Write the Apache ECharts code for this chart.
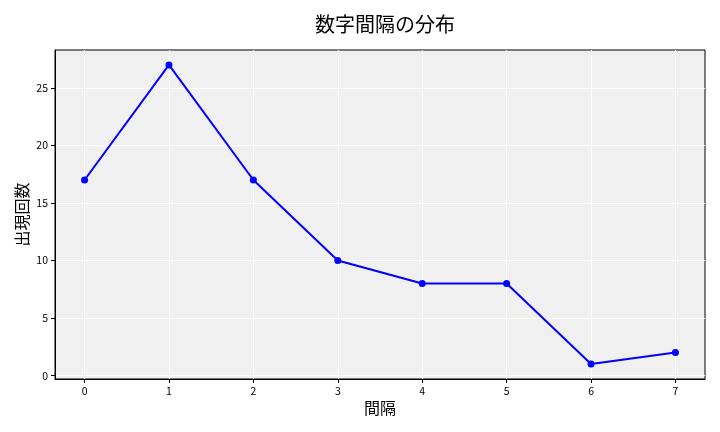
<!DOCTYPE html>
<html><head><meta charset="utf-8">
<script src="https://cdn.jsdelivr.net/npm/echarts@6/dist/echarts.min.js"></script>
<style>html,body{margin:0;padding:0;background:#fff}#c{width:720px;height:432px}</style>
</head><body><div id="c"></div>
<script>
const intervals = [0, 1, 2, 3, 4, 5, 6, 7];
const counts = [17, 27, 17, 10, 8, 8, 1, 2];
const yTicks = [0, 5, 10, 15, 20, 25];
const titleText = '数字間隔の分布';
const xName = '間隔';
const yName = '出現回数';

const font = '"Noto Sans CJK JP", "DejaVu Sans", sans-serif';
const chart = echarts.init(document.getElementById('c'), null, {renderer: 'canvas'});
chart.setOption({
  animation: false,
  backgroundColor: '#fff',
  title: {text: titleText, left: 380, textAlign: 'center', top: 9,
    textStyle: {fontFamily: font, fontSize: 20, fontWeight: 'normal', color: '#000'}},
  grid: {left: 55, right: 15, top: 50, bottom: 53, show: true,
    backgroundColor: '#F0F0F0', borderColor: '#000', borderWidth: 1},
  xAxis: {type: 'value', min: -0.35, max: 7.35,
    name: xName, nameLocation: 'middle', nameGap: 21, nameMoveOverlap: false,
    nameTextStyle: {fontFamily: font, fontSize: 16, color: '#000'},
    axisLine: {show: true, onZero: false, lineStyle: {color: '#000'}},
    axisTick: {show: true, length: 4, lineStyle: {color: '#000'}, customValues: intervals},
    axisLabel: {customValues: intervals, fontFamily: font, fontSize: 10.5, color: '#000', margin: 7},
    splitLine: {show: true, lineStyle: {color: '#fff', width: 1}}},
  yAxis: {type: 'value', min: -0.3, max: 28.3,
    name: yName, nameLocation: 'middle', nameGap: 25, nameRotate: 90, nameMoveOverlap: false,
    nameTextStyle: {fontFamily: font, fontSize: 16, color: '#000'},
    axisLine: {show: true, onZero: false, lineStyle: {color: '#000'}},
    axisTick: {show: true, length: 4, lineStyle: {color: '#000'}, customValues: yTicks},
    axisLabel: {customValues: yTicks, fontFamily: font, fontSize: 10.5, color: '#000', margin: 7},
    splitLine: {show: true, lineStyle: {color: '#fff', width: 1}}},
  series: [{type: 'line', data: intervals.map((x, i) => [x, counts[i]]),
    color: '#0000FF', lineStyle: {width: 2, color: '#0000FF'},
    symbol: 'circle', symbolSize: 7, itemStyle: {color: '#0000FF'}}]
});
</script></body></html>
